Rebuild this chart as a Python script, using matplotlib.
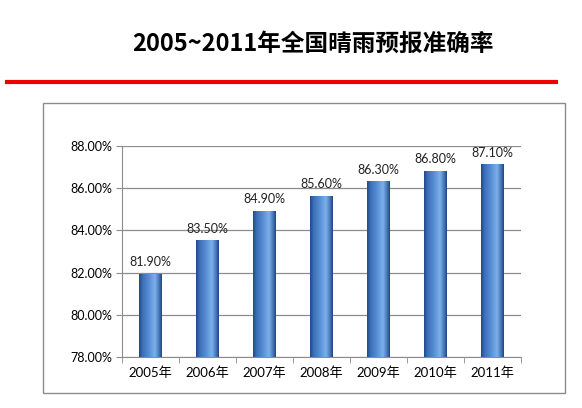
import matplotlib.pyplot as plt
import numpy as np
from matplotlib.colors import LinearSegmentedColormap
from matplotlib.patches import Rectangle
from matplotlib.lines import Line2D

plt.rcParams['font.family'] = ['Lato', 'Noto Sans CJK SC', 'DejaVu Sans']

# datos
anios = ['2005年', '2006年', '2007年', '2008年', '2009年', '2010年', '2011年']
precision = [81.90, 83.50, 84.90, 85.60, 86.30, 86.80, 87.10]
titulo = '2005~2011年全国晴雨预报准确率'

fig = plt.figure(figsize=(5.82, 4.08), dpi=100)
fig.patch.set_facecolor('white')

# titulo y linea roja
fig.text(0.538, 0.893, titulo, ha='center', va='center', fontsize=17,
         fontweight='bold', family=['Noto Sans CJK SC', 'DejaVu Sans'])
fig.add_artist(Line2D([7/582, 556/582], [1 - 82/408, 1 - 82/408],
                      color='#ee0000', lw=3, transform=fig.transFigure))

# marco del grafico
fig.add_artist(Rectangle((43/582, 1 - 393/408), 522/582, 290/408,
                         transform=fig.transFigure, fill=False,
                         edgecolor='#8c8c8c', lw=1))

ax = fig.add_axes([122/582, 1 - 357/408, 399/582, 211/408])

cmap = LinearSegmentedColormap.from_list('cil', [
    (0.0, '#23488a'), (0.15, '#3b6fb8'), (0.45, '#5a90d6'),
    (0.7, '#7db0ea'), (0.88, '#4776ba'), (1.0, '#21467f')])
grad = np.linspace(0, 1, 64).reshape(1, -1)

ancho = 0.4
x = np.arange(len(anios))
for xi, v in zip(x, precision):
    ax.imshow(grad, cmap=cmap, aspect='auto', zorder=3,
              extent=(xi - ancho/2, xi + ancho/2, 78, v))
    ax.text(xi, v + 0.3, f'{v:.2f}%', ha='center', va='bottom',
            fontsize=9, color='#222222')

ax.set_xlim(-0.5, len(anios) - 0.5)
ax.set_ylim(78, 88)
ax.set_yticks(np.arange(78, 88.1, 2))
ax.set_yticklabels([f'{t:.2f}%' for t in np.arange(78, 88.1, 2)])
ax.set_xticks(x)
ax.set_xticklabels(anios)
ax.set_xticks(np.arange(-0.5, len(anios)), minor=True)
ax.tick_params(axis='x', which='major', length=0, pad=7, labelsize=9.5)
ax.tick_params(axis='x', which='minor', length=4, color='#8c8c8c')
ax.tick_params(axis='y', length=4, color='#8c8c8c', labelsize=9, pad=3)

ax.grid(axis='y', color='#8c8c8c', lw=0.9, zorder=0)
ax.set_axisbelow(True)
for s in ['top', 'right']:
    ax.spines[s].set_visible(False)
for s in ['left', 'bottom']:
    ax.spines[s].set_color('#8c8c8c')

fig.savefig('out.png', dpi=100)
